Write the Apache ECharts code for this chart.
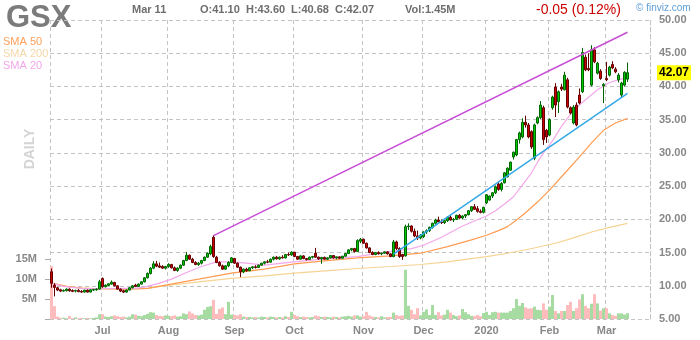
<!DOCTYPE html>
<html><head><meta charset="utf-8">
<script src="https://cdn.jsdelivr.net/npm/echarts@6/dist/echarts.min.js"></script>
<style>html,body{margin:0;padding:0;background:#fff}#c{width:700px;height:340px}</style>
</head><body><div id="c"></div>
<script>
// ---- trading days per month ----
const daysJun19 = [6,7,10,11,12,13,14,17,18,19,20,21,24,25,26,27,28];
const daysJul19 = [1,2,3,5,8,9,10,11,12,15,16,17,18,19,22,23,24,25,26,29,30,31];
const daysAug19 = [1,2,5,6,7,8,9,12,13,14,15,16,19,20,21,22,23,26,27,28,29,30];
const daysSep19 = [3,4,5,6,9,10,11,12,13,16,17,18,19,20,23,24,25,26,27,30];
const daysOct19 = [1,2,3,4,7,8,9,10,11,14,15,16,17,18,21,22,23,24,25,28,29,30,31];
const daysNov19 = [1,4,5,6,7,8,11,12,13,14,15,18,19,20,21,22,25,26,27,29];
const daysDec19 = [2,3,4,5,6,9,10,11,12,13,16,17,18,19,20,23,24,26,27,30,31];
const daysJan20 = [2,3,6,7,8,9,10,13,14,15,16,17,21,22,23,24,27,28,29,30,31];
const daysFeb20 = [3,4,5,6,7,10,11,12,13,14,18,19,20,21,24,25,26,27,28];
const daysMar20 = [2,3,4,5,6,9,10,11];
const monthKeys = ['2019-06','2019-07','2019-08','2019-09','2019-10','2019-11','2019-12','2020-01','2020-02','2020-03'];
const monthTickLabels = ['', 'Jul','Aug','Sep','Oct','Nov','Dec','2020','Feb','Mar'];

// ---- OHLC [open, high, low, close] ----
const ohlcJun = [[12.10,12.60,9.70,10.38],[10.10,10.40,8.40,9.75],[9.70,9.85,9.20,9.35],[9.40,9.55,9.05,9.20],[9.20,9.45,9.10,9.30],[9.25,9.60,9.15,9.50],[9.50,9.60,9.10,9.25],[9.30,9.45,9.05,9.15],[9.20,9.40,9.00,9.30],[9.30,9.50,9.05,9.10],[9.15,9.35,8.95,9.05],[9.05,9.40,9.00,9.35],[9.35,9.45,9.00,9.05],[9.05,9.45,9.00,9.40],[9.35,9.50,9.20,9.45],[9.40,9.60,9.25,9.50],[9.50,10.90,9.45,10.60]];
const ohlcJul = [[11.10,11.25,9.70,9.85],[9.85,10.20,9.75,10.10],[10.05,10.40,9.95,10.30],[10.25,10.80,10.15,10.55],[10.50,10.60,9.90,10.00],[10.00,10.05,9.40,9.50],[9.50,9.60,9.05,9.20],[9.25,9.40,8.90,9.05],[9.05,9.45,8.95,9.35],[9.35,9.80,9.30,9.70],[9.70,10.10,9.60,10.00],[10.10,10.30,9.80,9.90],[9.90,10.35,9.85,10.25],[10.25,10.70,10.20,10.60],[10.60,11.30,10.50,11.20],[11.20,12.00,11.10,11.85],[11.85,12.80,11.70,12.65],[12.65,13.70,12.50,13.30],[13.30,13.75,12.80,12.95],[13.00,13.50,12.70,12.80],[12.90,13.10,12.55,12.65],[12.65,13.00,12.45,12.90]];
const ohlcAug = [[12.90,13.40,12.70,13.20],[13.20,13.30,12.60,12.70],[12.70,12.90,12.20,12.30],[12.30,12.80,12.10,12.65],[12.65,13.20,12.50,13.10],[13.10,13.90,13.00,13.80],[13.80,15.10,13.70,14.60],[14.60,14.70,13.90,14.00],[14.00,14.20,13.40,13.50],[13.50,13.70,13.10,13.20],[13.20,13.60,13.00,13.40],[13.40,13.90,13.20,13.80],[13.80,14.40,13.70,14.30],[14.30,15.00,14.20,14.90],[14.80,16.20,14.60,15.90],[17.30,17.60,14.20,14.40],[14.30,14.50,13.40,13.50],[13.50,13.70,12.90,13.00],[13.00,13.20,12.40,12.50],[12.50,13.10,12.40,13.00],[13.00,13.70,12.80,13.50],[13.50,14.30,13.40,14.20]];
const ohlcSep = [[14.10,14.20,13.30,13.40],[13.40,13.50,12.70,12.80],[12.80,12.90,11.30,12.10],[12.10,12.60,11.90,12.50],[12.50,12.70,12.10,12.25],[12.25,12.80,12.20,12.70],[12.70,12.95,12.50,12.85],[12.85,13.10,12.60,12.75],[12.75,13.20,12.70,13.10],[13.10,13.45,13.00,13.40],[13.40,13.70,13.20,13.60],[13.60,13.90,13.40,13.55],[13.55,14.10,13.50,14.00],[14.00,14.40,13.80,14.30],[14.30,14.50,13.95,14.05],[14.05,14.40,13.90,14.30],[14.30,14.60,14.10,14.20],[14.20,14.80,14.10,14.70],[14.70,15.00,14.50,14.65],[14.65,15.20,14.50,15.05]];
const ohlcOct = [[15.05,15.10,14.30,14.40],[14.40,14.50,13.90,14.00],[14.00,14.60,13.95,14.50],[14.50,14.60,14.00,14.10],[14.10,14.20,13.80,13.95],[13.95,14.40,13.90,14.30],[14.30,14.50,14.10,14.40],[14.90,15.70,14.20,14.30],[14.30,14.40,13.90,14.05],[14.05,14.35,13.30,14.25],[14.25,14.40,13.95,14.00],[14.00,14.30,13.90,14.20],[14.20,14.60,14.10,14.55],[14.55,14.60,14.10,14.20],[14.20,14.40,14.00,14.35],[14.35,14.45,14.05,14.15],[14.15,14.50,14.10,14.45],[14.45,14.90,14.40,14.85],[14.85,15.50,14.80,15.40],[15.40,15.70,15.20,15.60],[15.60,15.70,15.00,15.15],[15.15,17.00,15.10,16.80],[16.70,17.20,16.40,17.00]];
const ohlcNov = [[17.00,17.10,16.30,16.40],[16.40,16.50,15.60,15.70],[15.70,15.80,14.90,15.00],[15.00,15.20,14.60,14.70],[14.70,15.10,14.60,15.00],[15.00,15.20,14.70,14.80],[14.80,15.00,14.60,14.90],[14.90,15.20,14.80,15.10],[15.10,15.20,14.70,14.80],[14.80,14.90,14.30,14.40],[14.40,16.90,14.30,16.60],[16.60,16.80,15.40,15.60],[15.60,15.80,14.20,14.40],[14.70,14.80,13.90,14.40],[14.50,19.20,14.40,18.90],[18.90,19.40,18.40,19.00],[19.00,19.10,18.00,18.20],[18.20,18.60,17.30,17.50],[17.50,18.30,16.90,17.20],[17.20,17.80,17.00,17.60]];
const ohlcDec = [[17.40,18.20,17.20,18.10],[18.10,18.50,17.80,18.30],[18.30,18.90,18.10,18.80],[18.80,19.50,18.60,19.40],[19.40,20.10,19.20,19.90],[19.90,20.40,19.50,19.60],[19.60,20.00,19.30,19.50],[19.50,19.90,19.30,19.80],[19.80,20.50,19.60,20.30],[20.30,20.60,19.80,19.90],[19.90,20.20,19.60,20.00],[20.00,20.70,19.90,20.60],[20.60,20.80,20.10,20.20],[20.20,20.60,20.00,20.50],[20.50,20.80,20.20,20.70],[20.70,21.40,20.60,21.30],[21.30,22.00,21.10,21.90],[21.90,22.30,21.40,21.50],[21.60,22.00,21.00,21.20],[21.20,21.50,20.90,21.05],[21.05,21.90,20.90,21.80]];
const ohlcJan = [[22.50,23.80,22.30,23.70],[22.90,23.60,22.80,23.50],[23.50,24.10,23.20,24.00],[24.00,25.10,23.80,24.90],[25.30,25.60,24.30,24.50],[24.50,25.60,24.20,25.40],[25.50,27.10,25.40,27.00],[26.40,27.80,26.30,27.70],[27.40,28.70,27.30,28.60],[29.40,30.20,29.00,30.10],[29.70,32.10,29.50,32.00],[32.00,33.20,31.40,33.00],[32.40,35.20,32.20,34.60],[34.60,35.60,33.80,34.20],[34.20,34.50,32.20,32.40],[33.20,33.40,30.60,30.90],[29.20,34.40,28.90,34.20],[34.50,35.50,34.30,35.30],[35.30,37.80,35.10,37.20],[36.80,37.10,31.20,32.00],[33.40,33.60,31.50,32.40]];
const ohlcFeb = [[32.70,35.20,32.50,35.00],[36.80,38.60,36.50,38.40],[39.90,40.50,35.40,37.20],[37.70,39.40,36.00,39.20],[39.90,40.40,39.30,39.60],[39.50,42.20,39.40,41.70],[41.00,41.30,36.70,36.90],[36.80,37.00,35.80,36.00],[34.50,37.20,34.30,36.90],[37.20,37.60,34.00,34.20],[38.70,39.70,37.30,37.50],[39.20,45.80,39.00,45.10],[44.40,44.80,42.30,42.50],[42.70,45.00,42.30,42.50],[40.20,46.20,40.00,45.50],[45.50,45.90,43.50,43.70],[42.00,43.70,41.80,43.50],[42.30,42.60,41.00,41.20],[40.10,40.50,37.50,40.30]];
const ohlcMar = [[41.20,43.70,40.80,41.00],[41.70,43.10,41.50,42.90],[43.30,43.80,42.60,42.80],[42.60,42.90,42.00,42.20],[41.00,42.00,40.60,41.70],[38.70,40.70,38.40,40.50],[40.20,42.30,40.00,42.12],[41.10,43.60,40.68,42.07]];

// ---- volume (millions) ----
const volJun = [13.2,3.2,0.6,0.3,0.3,0.2,0.8,0.2,0.4,0.2,0.3,0.2,0.3,0.2,0.3,0.4,1.2];
const volJul = [1.2,0.6,0.5,0.7,0.9,0.7,0.5,0.6,0.4,0.6,1.2,1.1,0.8,0.7,1.0,1.3,1.7,1.6,1.0,0.8,0.7,0.9];
const volAug = [0.8,0.7,0.9,0.6,0.7,1.4,1.2,1.9,1.4,1.0,0.9,1.1,2.3,3.0,3.2,4.8,1.3,2.5,2.9,1.2,4.3,1.1];
const volSep = [1.0,0.9,1.2,0.6,0.5,0.5,0.4,0.5,0.4,0.6,0.5,0.4,0.6,0.5,0.4,0.5,0.4,0.7,0.5,1.8];
const volOct = [1.0,0.7,0.5,0.6,0.5,0.4,0.5,0.9,0.7,0.5,0.6,0.5,0.4,0.6,0.5,0.4,0.6,0.7,0.8,0.6,0.9,0.9,0.6];
const volNov = [0.7,1.8,0.9,0.6,0.5,0.4,0.7,0.4,0.5,0.5,1.6,1.0,0.8,0.9,12.3,3.3,2.3,1.2,2.7,0.9];
const volDec = [1.8,2.4,1.0,3.5,1.0,1.7,0.9,1.1,2.3,1.6,1.0,0.7,0.9,2.5,1.7,1.2,0.8,0.7,1.0,0.7,1.5];
const volJan = [1.8,1.0,1.7,1.8,1.6,1.6,1.6,1.6,2.0,2.7,5.0,3.3,4.0,2.9,2.6,2.7,3.1,2.3,2.2,3.9,2.3];
const volFeb = [3.1,6.0,2.0,1.4,2.0,2.0,3.5,4.3,2.0,2.7,4.9,6.2,3.3,2.7,3.8,6.2,3.9,2.1,2.7];
const volMar = [2.7,1.4,1.0,0.8,1.4,1.4,1.1,1.45];

// ---- moving averages: [day index, value] ----
const sma20 = [[0,10.4],[4,9.9],[10,9.6],[16,9.55],[22,9.6],[28,9.6],[31,9.8],[36,10.4],[40,11.0],[45,12.0],[50,12.9],[55,13.6],[60,13.6],[65,13.4],[71,13.1],[77,13.4],[81,13.6],[90,14.0],[102,14.4],[110,15.0],[115,15.3],[120,15.6],[124,16.1],[130,17.3],[137,19.0],[145,20.5],[148,21.3],[151,22.3],[154,23.4],[156,24.6],[158,25.8],[160,27.0],[162,28.6],[164,30.0],[167,31.8],[170,34.0],[173,35.8],[176,37.2],[178,38.0],[182,39.5],[186,40.6],[189,41.0],[192,41.4]];
const sma50 = [[0,10.4],[5,9.9],[10,9.65],[16,9.55],[25,9.5],[32,9.6],[38,10.1],[44,10.6],[49,11.0],[55,11.5],[60,11.9],[71,12.5],[81,13.3],[90,13.7],[102,14.2],[113,14.5],[123,14.9],[132,15.9],[140,16.9],[145,17.6],[149,18.3],[152,18.9],[155,19.9],[158,21.0],[162,22.6],[166,24.4],[171,26.9],[176,29.4],[180,31.5],[184,33.4],[188,34.5],[192,35.2]];
const sma200 = [[0,10.4],[5,9.9],[10,9.65],[16,9.55],[25,9.5],[32,9.6],[38,10.0],[49,10.6],[60,11.1],[71,11.5],[81,11.9],[90,12.2],[102,12.6],[113,12.9],[123,13.2],[132,13.6],[145,14.4],[152,14.9],[159,15.5],[168,16.4],[174,17.2],[180,18.1],[186,18.8],[192,19.4]];

// ---- trend lines: [day index, value] ----
const upperTrend = [[54,17.55],[192,48.15]];
const lowerTrend = [[114,14.75],[192,38.95]];

const lastPrice = 42.07;

// ---------- build ----------
const FONT = '"Liberation Sans", Arial, sans-serif';
const dayLists = [daysJun19,daysJul19,daysAug19,daysSep19,daysOct19,daysNov19,daysDec19,daysJan20,daysFeb20,daysMar20];
const dates = [];
const tickLabelAt = {};
dayLists.forEach((list, m) => {
  list.forEach((d, k) => {
    if (k === 0 && monthTickLabels[m]) tickLabelAt[dates.length] = monthTickLabels[m];
    dates.push(monthKeys[m] + '-' + String(d).padStart(2, '0'));
  });
});
const cats = dates.slice();
for (let i = 0; i < 7; i++) cats.push('pad' + i);

const ohlc = [].concat(ohlcJun,ohlcJul,ohlcAug,ohlcSep,ohlcOct,ohlcNov,ohlcDec,ohlcJan,ohlcFeb,ohlcMar);
const vol = [].concat(volJun,volJul,volAug,volSep,volOct,volNov,volDec,volJan,volFeb,volMar);
const candleData = ohlc.map(d => [d[0], d[3], d[2], d[1]]);
const volData = vol.map((v, i) => ({
  value: v,
  itemStyle: { color: ohlc[i][3] >= ohlc[i][0] ? '#a6dba2' : '#ffbcbc' }
}));

const GRID = '#c3c3c3';
const LBL = '#888888';
const gridLine = { color: GRID, type: [4, 3], width: 1 };

const chart = echarts.init(document.getElementById('c'), null, { renderer: 'canvas' });
chart.setOption({
  animation: false,
  grid: [
    { left: 50, right: 50, top: 20, bottom: 21 },
    { left: 50, right: 50, top: 259, height: 60 }
  ],
  xAxis: [
    {
      type: 'category', gridIndex: 0, data: cats, boundaryGap: true,
      axisLine: { show: false }, axisTick: { show: false },
      axisLabel: {
        interval: (i) => tickLabelAt[i] !== undefined,
        formatter: (v, i) => tickLabelAt[i] || '',
        color: LBL, fontSize: 11, fontWeight: 'bold', fontFamily: FONT, margin: 6
      },
      splitLine: {
        show: true,
        interval: (i) => i === 0 || tickLabelAt[i] !== undefined,
        lineStyle: gridLine
      }
    },
    { type: 'category', gridIndex: 1, data: cats, boundaryGap: true, show: false }
  ],
  yAxis: [
    {
      type: 'value', gridIndex: 0, position: 'right', min: 5, max: 50, interval: 5,
      axisLine: { show: true, lineStyle: gridLine },
      axisTick: { show: false },
      axisLabel: { formatter: v => v.toFixed(2), color: LBL, fontSize: 11, fontWeight: 'bold', fontFamily: FONT, margin: 9 },
      splitLine: { show: true, lineStyle: gridLine }
    },
    {
      type: 'value', gridIndex: 1, position: 'left', min: 0, max: 15, interval: 5,
      axisLine: { show: false },
      axisTick: { show: true, length: 5, lineStyle: { color: '#aaaaaa', width: 1 } },
      axisLabel: { formatter: v => v ? v + 'M' : '', color: LBL, fontSize: 11, fontWeight: 'bold', fontFamily: FONT, margin: 13 },
      splitLine: { show: false }
    }
  ],
  series: [
    {
      type: 'bar', xAxisIndex: 1, yAxisIndex: 1, data: volData, barWidth: 3, barCategoryGap: '0%', z: 1, silent: true
    },
    {
      type: 'line', data: sma200, showSymbol: false, symbol: 'none', z: 2, silent: true,
      lineStyle: { color: '#f6d393', width: 1.2 }
    },
    {
      type: 'line', data: sma50, showSymbol: false, symbol: 'none', z: 2, silent: true,
      lineStyle: { color: '#ff9c52', width: 1.2 }
    },
    {
      type: 'line', data: sma20, showSymbol: false, symbol: 'none', z: 2, silent: true,
      lineStyle: { color: '#f4a8ea', width: 1.2 }
    },
    {
      type: 'candlestick', xAxisIndex: 0, yAxisIndex: 0, data: candleData, barWidth: 2.6, z: 5,
      itemStyle: { color: '#00c800', color0: '#cc0000', borderColor: '#006400', borderColor0: '#640000', borderWidth: 1 },
      markLine: {
        silent: true, symbol: 'none', animation: false,
        data: [{ yAxis: lastPrice }],
        lineStyle: { color: 'rgba(0,0,0,0)', width: 0 },
        label: {
          position: 'end', distance: 7, formatter: lastPrice.toFixed(2),
          backgroundColor: '#ffff00', color: '#000', fontWeight: 'bold', fontSize: 12, fontFamily: FONT,
          padding: [2, 2, 1, 2]
        }
      }
    },
    {
      type: 'line', data: upperTrend, showSymbol: false, symbol: 'none', z: 6, silent: true,
      lineStyle: { color: '#c84fd6', width: 1.5 }
    },
    {
      type: 'line', data: lowerTrend, showSymbol: false, symbol: 'none', z: 6, silent: true,
      lineStyle: { color: '#35a9e6', width: 1.5 }
    }
  ],
  graphic: [
    { type: 'text', x: 6, y: 18, style: { text: 'GSX', font: 'bold 31px ' + FONT, fill: '#7b7b7b', align: 'left', verticalAlign: 'middle' } },
    { type: 'text', x: 132, y: 10, style: { text: 'Mar 11', font: 'bold 11px ' + FONT, fill: '#6e6e6e', verticalAlign: 'middle' } },
    { type: 'text', x: 200, y: 10, style: { text: 'O:41.10', font: 'bold 11px ' + FONT, fill: '#6e6e6e', verticalAlign: 'middle' } },
    { type: 'text', x: 246, y: 10, style: { text: 'H:43.60', font: 'bold 11px ' + FONT, fill: '#6e6e6e', verticalAlign: 'middle' } },
    { type: 'text', x: 291, y: 10, style: { text: 'L:40.68', font: 'bold 11px ' + FONT, fill: '#6e6e6e', verticalAlign: 'middle' } },
    { type: 'text', x: 335, y: 10, style: { text: 'C:42.07', font: 'bold 11px ' + FONT, fill: '#6e6e6e', verticalAlign: 'middle' } },
    { type: 'text', x: 405, y: 10, style: { text: 'Vol:1.45M', font: 'bold 11px ' + FONT, fill: '#6e6e6e', verticalAlign: 'middle' } },
    { type: 'text', x: 536, y: 10, style: { text: '-0.05 (0.12%)', font: '14px ' + FONT, fill: '#cc0000', verticalAlign: 'middle' } },
    { type: 'text', x: 636, y: 8, style: { text: '© finviz.com', font: '10px ' + FONT, fill: '#5f9fd8', verticalAlign: 'middle' } },
    { type: 'text', x: 3, y: 42, style: { text: 'SMA 50', font: '11px ' + FONT, fill: '#ffa05c', verticalAlign: 'middle' } },
    { type: 'text', x: 3, y: 54, style: { text: 'SMA 200', font: '11px ' + FONT, fill: '#f5d7a8', verticalAlign: 'middle' } },
    { type: 'text', x: 3, y: 66, style: { text: 'SMA 20', font: '11px ' + FONT, fill: '#f2a6ea', verticalAlign: 'middle' } },
    { type: 'text', x: 30, y: 149, rotation: Math.PI / 2, style: { text: 'DAILY', font: 'bold 14px ' + FONT, fill: '#d4d4d4', align: 'center', verticalAlign: 'middle' } }
  ]
});
</script></body></html>
